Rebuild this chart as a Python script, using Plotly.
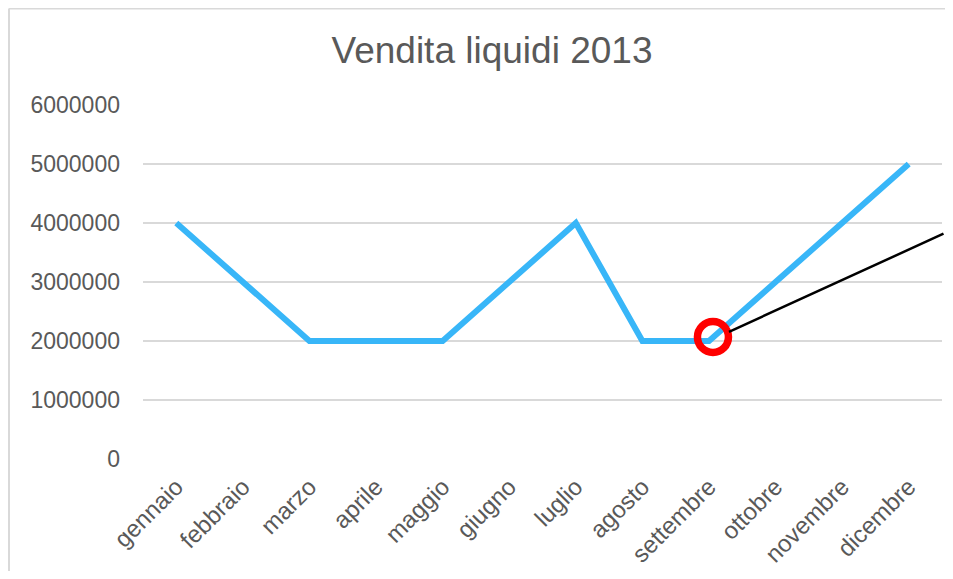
import plotly.graph_objects as go

months = ["gennaio", "febbraio", "marzo", "aprile", "maggio", "giugno",
          "luglio", "agosto", "settembre", "ottobre", "novembre", "dicembre"]
sales = [4000000, 3000000, 2000000, 2000000, 2000000, 3000000,
         4000000, 2000000, 2000000, 3000000, 4000000, 5000000]
y_ticks = [0, 1000000, 2000000, 3000000, 4000000, 5000000, 6000000]
highlight_month = "settembre"
highlight_value = 2000000

# page has an 8px body margin; keep the figure inside the window
W, H = 937, 563
ml, mr, mt, mb = 135, 3, 97, 112
pw, ph = W - ml - mr, H - mt - mb

def px_x(px):
    return (px - ml) / pw

def px_y(py):
    return (H - mb - py) / ph

fig = go.Figure()
fig.add_trace(go.Scatter(
    x=months, y=sales, mode="lines",
    line=dict(color="#38B6F8", width=6),
    hoverinfo="x+y", showlegend=False,
))

# red highlight ring around the settembre point (slightly off-centre as in the original)
hi_idx = months.index(highlight_month)
fig.add_shape(type="circle", xref="x", yref="y",
              xsizemode="pixel", ysizemode="pixel",
              xanchor=hi_idx, yanchor=highlight_value,
              x0=-11.5, x1=19.5, y0=-11.5, y1=19.5,
              line=dict(color="#FF0000", width=7.5),
              fillcolor="rgba(0,0,0,0)")

fig.add_annotation(
    x=highlight_month, y=highlight_value, xref="x", yref="y",
    text="", showarrow=True, arrowhead=0, arrowwidth=2.5, arrowcolor="#000000",
    ax=246, ay=-108, standoff=22,
)

# chart frame border (left and top edges only are visible)
frame = dict(color="#D9D9D9", width=2)
fig.add_shape(type="line", xref="paper", yref="paper",
              x0=px_x(1), x1=px_x(1), y0=px_y(H + 5), y1=px_y(0.5),
              line=frame, layer="below")
fig.add_shape(type="line", xref="paper", yref="paper",
              x0=px_x(1), x1=px_x(W + 5), y0=px_y(0.5), y1=px_y(0.5),
              line=frame, layer="below")

fig.update_layout(
    width=W, height=H,
    margin=dict(l=ml, r=mr, t=mt, b=mb),
    paper_bgcolor="white", plot_bgcolor="white",
    font=dict(family="Liberation Sans, Arial, sans-serif", color="#595959"),
    title=dict(text="Vendita liquidi 2013", x=(492 - 8) / W, xanchor="center",
               y=1 - 42 / H, yanchor="middle",
               font=dict(size=37, color="#595959")),
    xaxis=dict(
        type="category", range=[-0.5, 11.5],
        tickangle=-45, tickfont=dict(size=24, color="#595959"),
        showgrid=False, showline=False, ticks="", zeroline=False,
        ticklabelstandoff=8,
    ),
    yaxis=dict(
        range=[0, 6000000], tickvals=y_ticks,
        ticktext=[str(v) for v in y_ticks],
        tickfont=dict(size=23, color="#595959"),
        showgrid=True, gridcolor="#D9D9D9", gridwidth=2,
        zeroline=False, showline=False, ticks="", ticklabelstandoff=22,
    ),
)

fig.write_html("out.html")
